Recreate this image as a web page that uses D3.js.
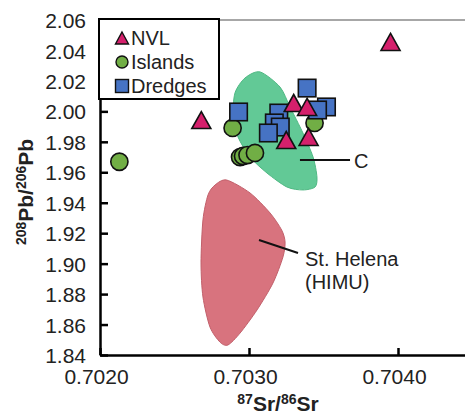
<!DOCTYPE html>
<html>
<head>
<meta charset="utf-8">
<script src="https://cdn.jsdelivr.net/npm/d3@7"></script>
<style>
  html, body { margin: 0; padding: 0; background: #fff; }
  svg { display: block; font-family: "Liberation Sans", Arial, Helvetica, sans-serif; }
</style>
</head>
<body>
<svg id="chart" width="465" height="414"></svg>
<script>
// 87Sr/86Sr vs 208Pb/206Pb
const xTicks = [0.7020, 0.7030, 0.7040];
const yTicks = [1.84, 1.86, 1.88, 1.90, 1.92, 1.94, 1.96, 1.98, 2.00, 2.02, 2.04, 2.06];

// NVL samples [Sr, Pb]
const nvlSr = [0.70395, 0.70268, 0.70330, 0.70339, 0.70325, 0.70340];
const nvlPb = [2.0456, 1.9943, 2.0055, 2.0029, 1.9812, 1.9832];

// Island samples
const islandSr = [0.70213, 0.70289, 0.70294, 0.70296, 0.70299, 0.70304, 0.70344];
const islandPb = [1.9669, 1.9891, 1.9700, 1.9707, 1.9713, 1.9727, 1.9924];

// Dredge samples
const dredgeSr = [0.70293, 0.70339, 0.70352, 0.70346, 0.70320, 0.70317, 0.70321, 0.70313];
const dredgePb = [1.9996, 2.0153, 2.0029, 2.0009, 1.9989, 1.9924, 1.9897, 1.9858];

// Field "C" outline
const fieldCSr = [0.703074, 0.703208, 0.703275, 0.703362, 0.703430, 0.703456, 0.703443, 0.703362,
                  0.703255, 0.703121, 0.703007, 0.702926, 0.702893, 0.702906, 0.702973];
const fieldCPb = [2.0259, 2.0160, 2.0029, 1.9858, 1.9700, 1.9569, 1.9503, 1.9484,
                  1.9503, 1.9595, 1.9700, 1.9832, 1.9963, 2.0121, 2.0219];

// St. Helena (HIMU) field outline
const helenaSr = [0.702850, 0.703007, 0.703141, 0.703219, 0.703242, 0.703228, 0.703161, 0.703054,
                  0.702940, 0.702859, 0.702805, 0.702738, 0.702691, 0.702678, 0.702691, 0.702725, 0.702772];
const helenaPb = [1.9549, 1.9464, 1.9333, 1.9221, 1.9142, 1.9044, 1.8873, 1.8696,
                  1.8544, 1.8466, 1.8485, 1.8584, 1.8781, 1.9004, 1.9287, 1.9451, 1.9516];

// Annotation anchors [Sr, Pb]
const helenaLeader = [[0.703067, 1.9155], [0.703329, 1.9070]];
const cLeader = [[0.703342, 1.9680], [0.703678, 1.9680]];
const helenaLabel = ["St. Helena", "(HIMU)"];
const cLabel = "C";

const legendNames = ["NVL", "Islands", "Dredges"];

const svg = d3.select("#chart");
const x = d3.scaleLinear().domain([0.7020, 0.7045]).range([100, 472.5]);
const y = d3.scaleLinear().domain([1.84, 2.06]).range([355, 20]);

const colors = {
  tri: "#d5206c", circ: "#71ae45", sq: "#4673c4",
  cFill: "#62c996", cStroke: "#4fb883",
  hFill: "#d8737e", hStroke: "#c2606b"
};

// plot frame (top edge)
svg.append("line")
  .attr("x1", x(0.7020)).attr("x2", 465)
  .attr("y1", y(2.06)).attr("y2", y(2.06))
  .attr("stroke", "#8a8a8a").attr("stroke-width", 1.5);

// fields
const area = d3.line().x(d => x(d[0])).y(d => y(d[1])).curve(d3.curveCardinalClosed.tension(0.2));
svg.append("path")
  .attr("d", area(helenaSr.map((s, i) => [s, helenaPb[i]])))
  .attr("fill", colors.hFill).attr("stroke", colors.hStroke).attr("stroke-width", 1);
svg.append("path")
  .attr("d", area(fieldCSr.map((s, i) => [s, fieldCPb[i]])))
  .attr("fill", colors.cFill).attr("stroke", colors.cStroke).attr("stroke-width", 1);

// leader lines and labels
const seg = d3.line().x(d => x(d[0])).y(d => y(d[1]));
svg.append("path").attr("d", seg(helenaLeader)).attr("stroke", "#111").attr("stroke-width", 2).attr("fill", "none");
svg.append("path").attr("d", seg(cLeader)).attr("stroke", "#111").attr("stroke-width", 2).attr("fill", "none");

svg.append("text")
  .attr("x", x(helenaLeader[1][0]) + 7).attr("y", y(helenaLeader[1][1]) + 13)
  .attr("font-size", 20).attr("fill", "#222")
  .selectAll("tspan").data(helenaLabel).join("tspan")
  .attr("x", x(helenaLeader[1][0]) + 7)
  .attr("dy", (d, i) => i === 0 ? 0 : 23)
  .text(d => d);
svg.append("text")
  .attr("x", x(cLeader[1][0]) + 4).attr("y", y(cLeader[1][1]) + 8)
  .attr("font-size", 20).attr("fill", "#222").text(cLabel);

// axes
const yAxis = d3.axisLeft(y).tickValues(yTicks).tickSizeInner(-8).tickSizeOuter(0).tickPadding(14)
  .tickFormat(d3.format(".2f"));
const xAxis = d3.axisBottom(x).tickValues(xTicks).tickSizeInner(-7).tickSizeOuter(0).tickPadding(14)
  .tickFormat(d3.format(".4f"));

const gy = svg.append("g").attr("transform", `translate(${x(0.7020)},0)`).call(yAxis);
const gx = svg.append("g").attr("transform", `translate(0,${y(1.84)})`).call(xAxis);
[gx, gy].forEach(g => {
  g.select(".domain").attr("stroke", "#000").attr("stroke-width", 2.5);
  g.selectAll(".tick line").attr("stroke", "#000").attr("stroke-width", 2.5);
  g.selectAll(".tick text").attr("font-size", 21).attr("fill", "#222")
    .attr("font-family", "'Liberation Sans', Arial, sans-serif");
});
gx.selectAll(".tick text").attr("dx", -4);
gy.selectAll(".tick text").attr("dy", "0.36em");

// axis titles
const xt = svg.append("text").attr("x", 278).attr("y", 411).attr("text-anchor", "middle")
  .attr("font-weight", "bold").attr("font-size", 21).attr("fill", "#222");
xt.append("tspan").attr("font-size", 14).attr("dy", -7).text("87");
xt.append("tspan").attr("dy", 7).text("Sr/");
xt.append("tspan").attr("font-size", 14).attr("dy", -7).text("86");
xt.append("tspan").attr("dy", 7).text("Sr");

const yt = svg.append("text").attr("transform", "translate(33,192) rotate(-90)")
  .attr("text-anchor", "middle").attr("font-weight", "bold").attr("font-size", 21).attr("fill", "#222");
yt.append("tspan").attr("font-size", 14).attr("dy", -7).text("208");
yt.append("tspan").attr("dy", 7).text("Pb/");
yt.append("tspan").attr("font-size", 14).attr("dy", -7).text("206");
yt.append("tspan").attr("dy", 7).text("Pb");

// marker shapes
const triPath = (w, h) => `M0,${-h / 2}L${w / 2},${h / 2}L${-w / 2},${h / 2}Z`;

// islands
svg.append("g").selectAll("circle")
  .data(islandSr.map((s, i) => [s, islandPb[i]])).join("circle")
  .attr("cx", d => x(d[0])).attr("cy", d => y(d[1])).attr("r", 8.6)
  .attr("fill", colors.circ).attr("stroke", "#111").attr("stroke-width", 1.6);

// dredges
const sq = 17.5;
svg.append("g").selectAll("rect")
  .data(dredgeSr.map((s, i) => [s, dredgePb[i]])).join("rect")
  .attr("x", d => x(d[0]) - sq / 2).attr("y", d => y(d[1]) - sq / 2)
  .attr("width", sq).attr("height", sq)
  .attr("fill", colors.sq).attr("stroke", "#111").attr("stroke-width", 1.6);

// NVL
svg.append("g").selectAll("path")
  .data(nvlSr.map((s, i) => [s, nvlPb[i]])).join("path")
  .attr("transform", d => `translate(${x(d[0])},${y(d[1])})`)
  .attr("d", triPath(19, 17))
  .attr("fill", colors.tri).attr("stroke", "#111").attr("stroke-width", 1.6).attr("stroke-linejoin", "miter");

// legend
const lg = svg.append("g");
lg.append("rect").attr("x", 99).attr("y", 19).attr("width", 120).attr("height", 80)
  .attr("fill", "#fff").attr("stroke", "#000").attr("stroke-width", 2);
const rows = [38, 62, 86];
lg.append("path").attr("transform", `translate(122,${rows[0]})`).attr("d", triPath(13, 12))
  .attr("fill", colors.tri).attr("stroke", "#111").attr("stroke-width", 1.4);
lg.append("circle").attr("cx", 122).attr("cy", rows[1]).attr("r", 6)
  .attr("fill", colors.circ).attr("stroke", "#111").attr("stroke-width", 1.4);
lg.append("rect").attr("x", 122 - 6.5).attr("y", rows[2] - 6.5).attr("width", 13).attr("height", 13)
  .attr("fill", colors.sq).attr("stroke", "#111").attr("stroke-width", 1.4);
lg.selectAll("text.lbl").data(legendNames).join("text").attr("class", "lbl")
  .attr("x", 131).attr("y", (d, i) => rows[i] + 7)
  .attr("font-size", 20).attr("fill", "#222").text(d => d);
</script>
</body>
</html>
